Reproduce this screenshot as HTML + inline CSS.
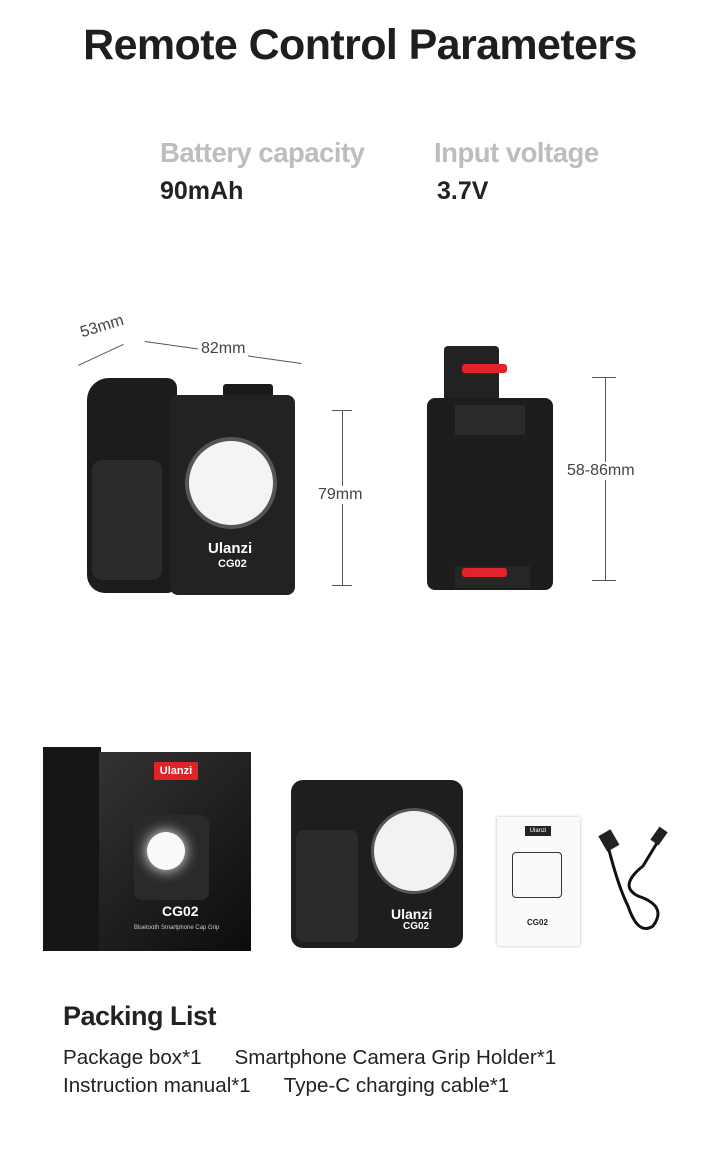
<!DOCTYPE html>
<html><head><meta charset="utf-8"><style>
body{margin:0;width:720px;height:1154px;background:#fff;position:relative;overflow:hidden;font-family:"Liberation Sans",sans-serif;color:#222}
.a{position:absolute}
h1{position:absolute;left:0;width:720px;top:21px;margin:0;text-align:center;font-size:43px;font-weight:bold;letter-spacing:-0.6px;color:#1e1e1e}
.g{font-size:27.5px;font-weight:bold;color:#bdbdbd;letter-spacing:-0.5px}
.v{font-size:25px;font-weight:bold;color:#222}
.t{font-size:20.6px;color:#222}
.ln{background:#555}
</style></head><body>
<h1>Remote Control Parameters</h1>
<div class="a g" style="left:160px;top:137px">Battery capacity</div>
<div class="a g" style="left:434px;top:137px">Input voltage</div>
<div class="a v" style="left:160px;top:177px">90mAh</div>
<div class="a v" style="left:437px;top:177px">3.7V</div>

<!-- device 1 -->
<div class="a" style="left:80px;top:318px;font-size:16px;color:#444;transform:rotate(-17deg)">53mm</div>
<div class="a ln" style="left:78px;top:365px;width:50px;height:1px;transform:rotate(-25deg);transform-origin:0 0"></div>
<div class="a ln" style="left:145px;top:341px;width:158px;height:1px;transform:rotate(8deg);transform-origin:0 0"></div>
<div class="a" style="left:198px;top:340px;font-size:16px;color:#444;background:#fff;padding:0 3px">82mm</div>
<div class="a" style="left:223px;top:384px;width:50px;height:30px;background:#1a1a1a;border-radius:3px"></div>
<div class="a" style="left:87px;top:378px;width:90px;height:215px;background:#1c1c1c;border-radius:22px 10px 10px 18px"></div>
<div class="a" style="left:92px;top:460px;width:70px;height:120px;background:#2b2b2b;border-radius:10px"></div>
<div class="a" style="left:170px;top:395px;width:125px;height:200px;background:#222;border-radius:8px"></div>
<div class="a" style="left:185px;top:437px;width:84px;height:84px;border-radius:50%;background:#f4f4f4;border:4px solid #555"></div>
<div class="a" style="left:208px;top:540px;color:#fff;font-weight:bold;font-size:15px">Ulanzi</div>
<div class="a" style="left:218px;top:558px;color:#fff;font-weight:bold;font-size:11px">CG02</div>
<div class="a ln" style="left:342px;top:410px;width:1px;height:175px"></div>
<div class="a ln" style="left:332px;top:410px;width:20px;height:1px"></div>
<div class="a ln" style="left:332px;top:585px;width:20px;height:1px"></div>
<div class="a" style="left:318px;top:486px;font-size:16px;color:#444;background:#fff">79mm</div>

<!-- device 2 -->
<div class="a" style="left:444px;top:346px;width:55px;height:235px;background:#222;border-radius:4px"></div>
<div class="a" style="left:462px;top:364px;width:45px;height:9px;background:#e3232b;border-radius:3px"></div>
<div class="a" style="left:427px;top:398px;width:126px;height:192px;background:#1d1d1d;border-radius:8px"></div>
<div class="a" style="left:455px;top:405px;width:70px;height:30px;background:#2a2a2a"></div>
<div class="a" style="left:455px;top:566px;width:75px;height:22px;background:#262626"></div>
<div class="a" style="left:462px;top:568px;width:45px;height:9px;background:#e3232b;border-radius:3px"></div>
<div class="a ln" style="left:605px;top:377px;width:1px;height:203px"></div>
<div class="a ln" style="left:592px;top:377px;width:24px;height:1px"></div>
<div class="a ln" style="left:592px;top:580px;width:24px;height:1px"></div>
<div class="a" style="left:567px;top:462px;font-size:16px;color:#444;background:#fff">58-86mm</div>

<!-- box -->
<div class="a" style="left:43px;top:747px;width:58px;height:204px;background:#161616"></div>
<div class="a" style="left:99px;top:752px;width:152px;height:199px;background:linear-gradient(135deg,#333,#0c0c0c)"></div>
<div class="a" style="left:154px;top:762px;width:44px;height:18px;background:#e0232b;color:#fff;font-size:11px;font-weight:bold;text-align:center;line-height:18px">Ulanzi</div>
<div class="a" style="left:134px;top:815px;width:75px;height:85px;background:#2a2a2a;border-radius:8px"></div>
<div class="a" style="left:147px;top:832px;width:38px;height:38px;border-radius:50%;background:#fafafa;box-shadow:0 0 14px #fff"></div>
<div class="a" style="left:162px;top:903px;color:#fff;font-weight:bold;font-size:14px">CG02</div>
<div class="a" style="left:134px;top:925px;color:#ccc;font-size:6px">Bluetooth Smartphone Cap Grip</div>

<!-- device front -->
<div class="a" style="left:291px;top:780px;width:172px;height:168px;background:#1e1e1e;border-radius:12px"></div>
<div class="a" style="left:296px;top:830px;width:62px;height:112px;background:#2b2b2b;border-radius:8px"></div>
<div class="a" style="left:371px;top:808px;width:80px;height:80px;border-radius:50%;background:#f2f2f2;border:3px solid #555"></div>
<div class="a" style="left:391px;top:906px;color:#fff;font-weight:bold;font-size:14px">Ulanzi</div>
<div class="a" style="left:403px;top:921px;color:#fff;font-weight:bold;font-size:10px">CG02</div>

<!-- manual -->
<div class="a" style="left:497px;top:817px;width:83px;height:129px;background:#fafafa;box-shadow:0 0 3px #bbb"></div>
<div class="a" style="left:525px;top:826px;width:26px;height:10px;background:#222;color:#fff;font-size:6px;text-align:center;line-height:10px">Ulanzi</div>
<div class="a" style="left:512px;top:852px;width:48px;height:44px;border:1px solid #333;border-radius:4px"></div>
<div class="a" style="left:527px;top:918px;font-size:8px;font-weight:bold">CG02</div>
<!-- cable -->
<svg class="a" style="left:598px;top:826px" width="72" height="114"><path d="M10 20 Q20 60 30 80 Q40 110 55 100 Q70 80 40 70 Q20 60 45 40 L62 12" stroke="#111" stroke-width="3" fill="none"/><rect x="4" y="6" width="14" height="18" fill="#222" transform="rotate(-30 10 15)"/><rect x="56" y="2" width="10" height="16" fill="#222" transform="rotate(35 61 10)"/></svg>

<div class="a" style="left:63px;top:1001px;font-size:27px;font-weight:bold;letter-spacing:-0.5px">Packing List</div>
<div class="a t" style="left:63px;top:1046px">Package box*1<span style="display:inline-block;width:33px"></span>Smartphone Camera Grip Holder*1</div>
<div class="a t" style="left:63px;top:1074px">Instruction manual*1<span style="display:inline-block;width:33px"></span>Type-C charging cable*1</div>
</body></html>
